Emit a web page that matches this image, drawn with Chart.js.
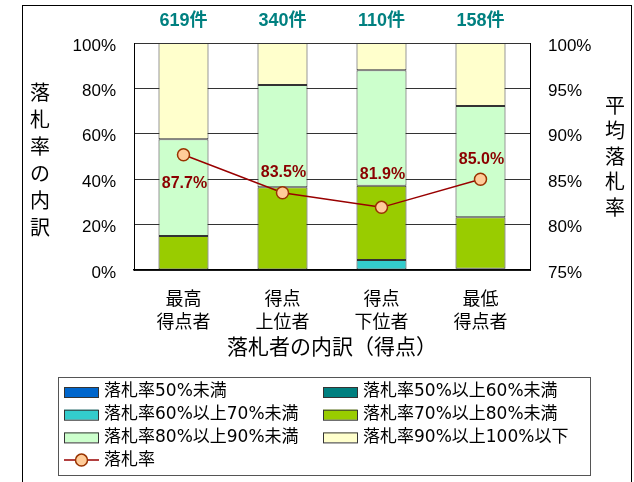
<!DOCTYPE html>
<html>
<head>
<meta charset="utf-8">
<script src="https://cdn.jsdelivr.net/npm/chart.js@4.4.0/dist/chart.umd.min.js"></script>
<style>
  html, body { margin: 0; padding: 0; background: #fff; }
  canvas { display: block; }
</style>
</head>
<body>
<canvas id="grafica" width="634" height="482"></canvas>
<script>
// datos
const categorias = [["最高", "得点者"], ["得点", "上位者"], ["得点", "下位者"], ["最低", "得点者"]];
const cantidades = [619, 340, 110, 158];
const menos50 = [0, 0, 0, 0];
const de50a60 = [0, 0, 0, 0.6];
const de60a70 = [0, 0, 4.4, 0];
const de70a80 = [15.0, 36.4, 32.7, 22.6];
const de80a90 = [42.6, 45.1, 50.9, 49.0];
const de90a100 = [42.4, 18.5, 12.0, 27.8];
const promedio = [87.7, 83.5, 81.9, 85.0];
const ticksIzq = [0, 20, 40, 60, 80, 100];
const ticksDer = [75, 80, 85, 90, 95, 100];

// desplazamiento vertical de las etiquetas del promedio
const offsetsEtiqueta = [29, -20, -33, -20];

const fuenteNum = "'Liberation Sans', 'Noto Sans CJK JP', sans-serif";
const fuenteJp = "'Noto Sans CJK JP', sans-serif";
const fuenteLeyenda = "'DejaVu Sans', 'Noto Sans CJK JP', sans-serif";

function barra(label, data, color) {
  return {
    type: "bar",
    label: label,
    data: data,
    backgroundColor: color,
    borderColor: "#333333",
    borderWidth: 1,
    borderSkipped: false,
    yAxisID: "y",
    order: 2,
    barPercentage: 0.505,
    categoryPercentage: 1,
  };
}

const extras = {
  id: "extras",
  afterDatasetsDraw(chart) {
    const ctx = chart.ctx;
    const puntos = chart.getDatasetMeta(6).data;
    ctx.save();
    ctx.font = "bold 16px " + fuenteNum;
    ctx.fillStyle = "#8B0000";
    ctx.textAlign = "center";
    ctx.textBaseline = "middle";
    promedio.forEach((v, i) => {
      ctx.fillText(v.toFixed(1) + "%", puntos[i].x + 1, puntos[i].y + offsetsEtiqueta[i]);
    });
    ctx.restore();
  },
  afterDraw(chart) {
    const ctx = chart.ctx;
    ctx.save();
    // marco exterior
    ctx.strokeStyle = "#000";
    ctx.lineWidth = 1;
    ctx.strokeRect(22.5, 5.5, 609, 500);

    // cantidad de casos arriba de cada barra
    const barras = chart.getDatasetMeta(0).data;
    ctx.font = "bold 18px " + fuenteNum;
    ctx.fillStyle = "#008080";
    ctx.textAlign = "center";
    ctx.textBaseline = "middle";
    cantidades.forEach((n, i) => ctx.fillText(n + "件", barras[i].x, 21));

    // titulos verticales
    ctx.font = "20px " + fuenteJp;
    ctx.fillStyle = "#000";
    Array.from("落札率の内訳").forEach((c, i) => ctx.fillText(c, 40, 92 + i * 27));
    Array.from("平均落札率").forEach((c, i) => ctx.fillText(c, 615, 105 + i * 25.5));

    // leyenda en dos columnas
    ctx.strokeStyle = "#555";
    ctx.strokeRect(58.5, 377.5, 532, 98);
    ctx.font = "17px " + fuenteLeyenda;
    ctx.textAlign = "left";
    chart.data.datasets.forEach((ds, i) => {
      const col = i % 2;
      const fila = Math.floor(i / 2);
      const x = col === 0 ? 64 : 323;
      const y = 392 + fila * 22.7;
      if (ds.type === "bar") {
        ctx.fillStyle = ds.backgroundColor;
        ctx.fillRect(x, y - 5, 34, 10);
        ctx.strokeStyle = "#333";
        ctx.strokeRect(x + 0.5, y - 4.5, 34, 10);
      } else {
        ctx.strokeStyle = ds.borderColor;
        ctx.lineWidth = 1.5;
        ctx.beginPath();
        ctx.moveTo(x, y);
        ctx.lineTo(x + 35, y);
        ctx.stroke();
        ctx.beginPath();
        ctx.arc(x + 17.5, y, 6, 0, Math.PI * 2);
        ctx.fillStyle = ds.pointBackgroundColor;
        ctx.fill();
        ctx.strokeStyle = ds.pointBorderColor;
        ctx.stroke();
        ctx.lineWidth = 1;
      }
      ctx.fillStyle = "#000";
      ctx.fillText(ds.label, x + 40, y);
    });
    ctx.restore();
  },
};

const canvas = document.getElementById("grafica");
const grafico = new Chart(canvas.getContext("2d"), {
  data: {
    labels: categorias,
    datasets: [
      barra("落札率50%未満", menos50, "#0066CC"),
      barra("落札率50%以上60%未満", de50a60, "#008080"),
      barra("落札率60%以上70%未満", de60a70, "#33CCCC"),
      barra("落札率70%以上80%未満", de70a80, "#99CC00"),
      barra("落札率80%以上90%未満", de80a90, "#CCFFCC"),
      barra("落札率90%以上100%以下", de90a100, "#FFFFCC"),
      {
        type: "line",
        label: "落札率",
        data: promedio,
        yAxisID: "y1",
        order: 1,
        borderColor: "#990000",
        borderWidth: 1.5,
        pointRadius: 6,
        pointBackgroundColor: "#FFCC99",
        pointBorderColor: "#993300",
        pointBorderWidth: 1.5,
      },
    ],
  },
  options: {
    responsive: false,
    animation: false,
    layout: { padding: { top: 43, bottom: 120, left: 0, right: 0 } },
    plugins: { legend: { display: false }, tooltip: { enabled: false } },
    scales: {
      x: {
        stacked: true,
        offset: true,
        grid: { display: false },
        border: { color: "#000", width: 1.5 },
        ticks: {
          color: "#000",
          padding: 9,
          font: { family: fuenteJp, size: 18, lineHeight: 1.25 },
        },
        title: {
          display: true,
          text: "落札者の内訳（得点）",
          color: "#000",
          font: { family: fuenteJp, size: 21 },
          padding: { top: 0, bottom: 3 },
        },
        afterFit: (s) => { s.height = 92; },
      },
      y: {
        stacked: true,
        min: 0,
        max: 100,
        grid: { color: "#333", drawTicks: false },
        border: { color: "#000" },
        afterBuildTicks: (s) => { s.ticks = ticksIzq.map((v) => ({ value: v })); },
        ticks: {
          color: "#000",
          padding: 18,
          labelOffset: 3,
          font: { family: fuenteNum, size: 17 },
          callback: (v) => v + "%",
        },
        afterFit: (s) => { s.width = 134; },
      },
      y1: {
        position: "right",
        min: 75,
        max: 100,
        grid: { drawOnChartArea: false, drawTicks: false },
        border: { color: "#000" },
        afterBuildTicks: (s) => { s.ticks = ticksDer.map((v) => ({ value: v })); },
        ticks: {
          color: "#000",
          padding: 18,
          labelOffset: 3,
          font: { family: fuenteNum, size: 17 },
          callback: (v) => v + "%",
        },
        afterFit: (s) => { s.width = 104; },
      },
    },
  },
  plugins: [extras],
});
</script>
</body>
</html>
